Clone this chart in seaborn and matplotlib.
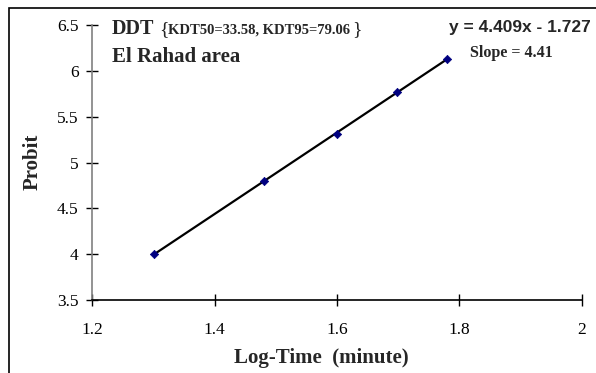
import numpy as np
import pandas as pd
import matplotlib
matplotlib.use("Agg")
import matplotlib.pyplot as plt
import seaborn as sns
from matplotlib.patches import Rectangle

# ---- data ----
log_time = [1.301, 1.48, 1.60, 1.698, 1.78]
probit = [4.00, 4.80, 5.31, 5.77, 6.13]
x_ticks = [1.2, 1.4, 1.6, 1.8, 2.0]
x_tick_labels = ["1.2", "1.4", "1.6", "1.8", "2"]
y_ticks = [3.5, 4.0, 4.5, 5.0, 5.5, 6.0, 6.5]
y_tick_labels = ["3.5", "4", "4.5", "5", "5.5", "6", "6.5"]
title_main = "DDT"
title_kdt = "KDT50=33.58, KDT95=79.06"
title_area = "El Rahad area"
equation_text = "y = 4.409x - 1.727"
slope_text = "Slope = 4.41"

df = pd.DataFrame({"x": log_time, "y": probit})

sns.set_style("ticks")
plt.rcParams["font.family"] = ["Liberation Serif", "DejaVu Serif"]

W, H = 596, 373
fig = plt.figure(figsize=(W / 100, H / 100), dpi=100)
ax = fig.add_axes([92.3 / W, 1 - 300 / H, 489.4 / W, 275 / H])

sns.regplot(data=df, x="x", y="y", ci=None, scatter=False, truncate=True,
            line_kws=dict(color="black", lw=1.6, zorder=2), ax=ax)
sns.scatterplot(data=df, x="x", y="y", marker="D", s=18, color="#000080",
                edgecolor="#000080", linewidth=0.5, zorder=3, ax=ax, legend=False)

ax.set_xlim(1.2, 2.0)
ax.set_ylim(3.5, 6.5)
ax.set_xticks(x_ticks)
ax.set_xticklabels(x_tick_labels)
ax.set_yticks(y_ticks)
ax.set_yticklabels(y_tick_labels)
ax.tick_params(axis="both", direction="inout", length=8, width=1, color="black",
               labelsize=12.5, labelcolor="black")
ax.tick_params(axis="x", pad=11.5)
ax.tick_params(axis="y", pad=6)

for s in ["top", "right"]:
    ax.spines[s].set_visible(False)
ax.spines["left"].set_color("#808080")
ax.spines["left"].set_linewidth(1.2)
ax.spines["bottom"].set_color("black")
ax.spines["bottom"].set_linewidth(1.2)

ax.set_xlabel("Log-Time  (minute)", fontsize=15, fontweight="bold", va="baseline")
ax.xaxis.set_label_coords((321 - 92.3) / 489.4, (300 - 363.3) / 275)
ax.set_ylabel("Probit", fontsize=15, fontweight="bold", va="center")
ax.yaxis.set_label_coords((33 - 92.3) / 489.4, (300 - 162) / 275)

def ftxt(px, py, s, **kw):
    fig.text(px / W, 1 - py / H, s, va="baseline", ha="left", **kw)

ftxt(111.7, 34, title_main, fontsize=14.5, fontweight="bold")
ftxt(159, 34, "{", fontsize=14)
ftxt(167.5, 34, title_kdt, fontsize=10.5, fontweight="bold")
ftxt(352, 34, "}", fontsize=14)
ftxt(111.7, 61.7, title_area, fontsize=15, fontweight="bold")
ftxt(449.3, 31.7, equation_text, fontsize=12.5, fontweight="bold",
     family=["Liberation Sans", "DejaVu Sans"])
ftxt(470, 56.7, slope_text, fontsize=11.6, fontweight="bold")

fig.patches.append(Rectangle((9 / W, -0.1), 1.2, 1 - 8 / H + 0.1,
                             transform=fig.transFigure, fill=False,
                             edgecolor="black", lw=1.2))

fig.savefig("out.png", dpi=100)
